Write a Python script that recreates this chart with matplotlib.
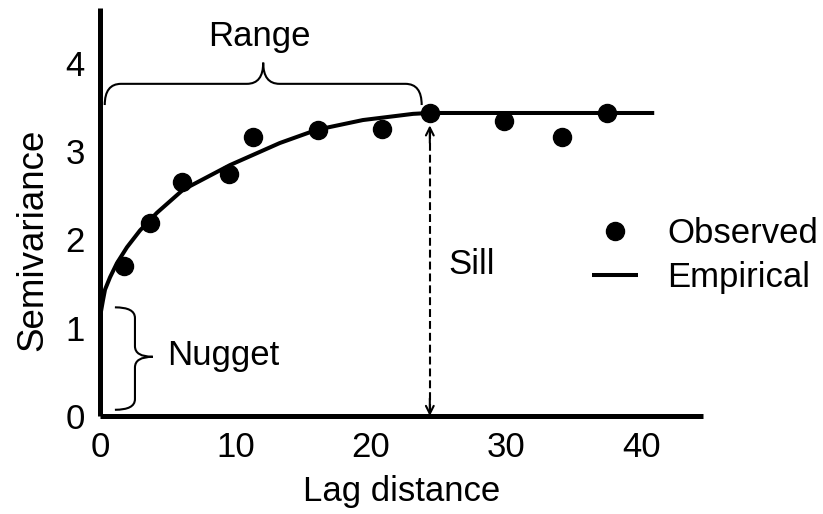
import matplotlib
matplotlib.use("Agg")
import matplotlib.pyplot as plt
from matplotlib.path import Path
from matplotlib.patches import PathPatch

plt.rcParams['font.family'] = ['Liberation Sans', 'DejaVu Sans']

# Observed semivariance points
obs_lag = [1.77, 3.69, 6.05, 9.51, 11.28, 16.08, 20.80, 24.34, 29.79, 34.07, 37.39]
obs_semi = [1.70, 2.19, 2.65, 2.74, 3.16, 3.24, 3.25, 3.43, 3.34, 3.16, 3.43]

# Empirical (fitted) model curve
emp_lag = [0, 0.22, 0.37, 0.74, 1.25, 1.99, 2.95, 4.20, 6.12, 9.59, 13.27, 16.0, 19.4, 23.1, 24.3, 40.9]
emp_semi = [1.12, 1.31, 1.43, 1.57, 1.73, 1.91, 2.10, 2.30, 2.56, 2.84, 3.09, 3.24, 3.35, 3.42, 3.43, 3.43]

sill = 3.43
range_ = 24.34

x_ticks = [0, 10, 20, 30, 40]
y_ticks = [0, 1, 2, 3, 4]

FS = 25

fig = plt.figure(figsize=(8.23, 5.14), dpi=100)
ax = fig.add_axes([0.1215, 0.1907, 0.7327, 0.794])
ax.set_xlim(0, 44.5)
ax.set_ylim(0, 4.62)

for s in ['top', 'right']:
    ax.spines[s].set_visible(False)
for s in ['left', 'bottom']:
    ax.spines[s].set_linewidth(3.6)
    ax.spines[s].set_capstyle('butt')

ax.set_xticks(x_ticks)
ax.set_yticks(y_ticks)
ax.tick_params(length=0, labelsize=FS, pad=11)

line, = ax.plot(emp_lag, emp_semi, color='black', lw=2.9, solid_capstyle='butt',
                label='Empirical', zorder=3)
dots, = ax.plot(obs_lag, obs_semi, 'o', color='black', ms=13, label='Observed',
                zorder=4, linestyle='none')

ax.set_xlabel('Lag distance', fontsize=FS, labelpad=8)
ax.set_ylabel('Semivariance', fontsize=26.5)
ax.yaxis.set_label_coords(-0.083, 0.431)

# Sill dashed arrow
top_arrow = sill - 0.14
ax.plot([range_, range_], [0.05, top_arrow - 0.05], color='black', lw=1.5,
        linestyle=(0, (3.8, 1.9)), zorder=2)
for tip in (0.0, top_arrow):
    ax.annotate('', xy=(range_, tip), xytext=(range_, tip + (0.2 if tip == 0 else -0.2)),
                arrowprops=dict(arrowstyle='->', lw=1.5, color='black', mutation_scale=14,
                                shrinkA=0, shrinkB=0))
ax.text(range_ + 1.35, 1.71, 'Sill', fontsize=FS, va='center', ha='left')

codes = [Path.MOVETO, Path.CURVE3, Path.CURVE3,
         Path.LINETO, Path.CURVE3, Path.CURVE3,
         Path.CURVE3, Path.CURVE3,
         Path.LINETO, Path.CURVE3, Path.CURVE3]

# Range brace (horizontal)
x0, x1 = 0.35, range_ - 0.6
y_end, y_bar, y_tip = 3.52, 3.76, 4.0
xc = (x0 + x1) / 2
r = 1.2
verts = [(x0, y_end), (x0, y_bar), (x0 + r, y_bar),
         (xc - r, y_bar), (xc, y_bar), (xc, y_tip),
         (xc, y_bar), (xc + r, y_bar),
         (x1 - r, y_bar), (x1, y_bar), (x1, y_end)]
ax.add_patch(PathPatch(Path(verts, codes), fill=False, lw=1.5, color='black'))
ax.text(xc - 0.3, 4.30, 'Range', fontsize=FS, ha='center', va='center')

# Nugget brace (vertical)
yb, yt = 0.07, 1.23
xe, xb, xt = 1.1, 2.58, 3.9
yc = 0.67
rv = 0.12
verts = [(xe, yt), (xb, yt), (xb, yt - rv),
         (xb, yc + rv), (xb, yc), (xt, yc),
         (xb, yc), (xb, yc - rv),
         (xb, yb + rv), (xb, yb), (xe, yb)]
ax.add_patch(PathPatch(Path(verts, codes), fill=False, lw=1.5, color='black'))
ax.text(4.94, 0.69, 'Nugget', fontsize=FS, ha='left', va='center')

leg = ax.legend(handles=[dots, line], labels=['Observed', 'Empirical'],
                frameon=False, fontsize=FS, loc='center left',
                bbox_to_anchor=(0.816, 0.393), handlelength=1.33, handletextpad=0.84,
                labelspacing=0.3, borderaxespad=0, borderpad=0, numpoints=1)

fig.savefig('out.png', dpi=100)
